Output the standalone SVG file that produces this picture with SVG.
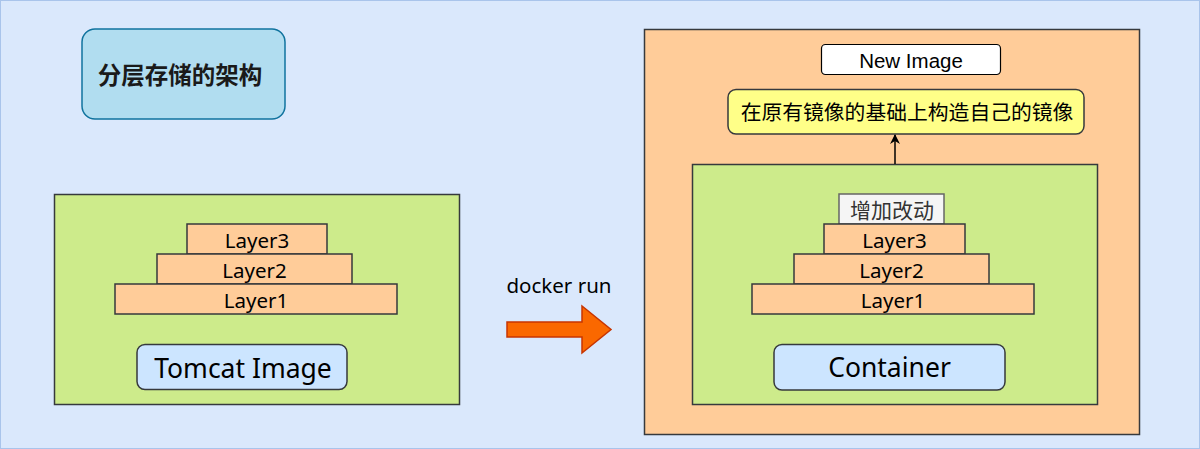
<svg xmlns="http://www.w3.org/2000/svg" width="1200" height="449" viewBox="0 0 1200 449">
<defs>
<style>
.green{fill:#cdeb8b;stroke:#36393d;stroke-width:1.5}
.layer{fill:#ffcc99;stroke:#36393d;stroke-width:1.5}
.lbl{font-family:"Comic Sans MS","Noto Sans","Liberation Sans",sans-serif;fill:#000;text-anchor:middle;dominant-baseline:central}
.cjk{font-family:"Liberation Sans","Noto Sans CJK SC",sans-serif;text-anchor:middle;dominant-baseline:central}
</style>
<marker id="ah" viewBox="0 0 10 10" refX="9" refY="5" markerWidth="10" markerHeight="10" markerUnits="userSpaceOnUse" orient="auto">
<path d="M0,0 L10,5 L0,10 L3,5 Z" fill="#000"/>
</marker>
</defs>
<rect x="0.5" y="0.5" width="1199" height="448" fill="#dae8fc" stroke="#a9c4eb"/>
<g id="title">
<rect x="82" y="29" width="203" height="90" rx="13" fill="#b1ddf0" stroke="#10739e" stroke-width="1.5"/>
<text x="180" y="76" class="cjk" font-size="23.5" font-weight="bold" fill="#1a1a1a">分层存储的架构</text>
</g>
<g id="tomcat-image">
<rect x="54.5" y="194.5" width="405" height="210" class="green"/>
</g>
<g id="layer3-left">
<rect x="187" y="224" width="140" height="30" class="layer"/>
<text x="257" y="240" class="lbl" font-size="20.5">Layer3</text>
</g>
<g id="layer2-left">
<rect x="157" y="254" width="195" height="30" class="layer"/>
<text x="254.5" y="270" class="lbl" font-size="20.5">Layer2</text>
</g>
<g id="layer1-left">
<rect x="115" y="284" width="282" height="30" class="layer"/>
<text x="256" y="300" class="lbl" font-size="20.5">Layer1</text>
</g>
<g id="tomcat-label">
<rect x="137" y="344.5" width="210" height="45" rx="8" fill="#cce5ff" stroke="#36393d" stroke-width="1.5"/>
<text x="243" y="368" class="lbl" font-size="26.5">Tomcat Image</text>
</g>
<g id="docker-run">
<text x="559" y="285" class="lbl" font-size="20.5">docker run</text>
<path d="M507,322 L582,322 L582,306 L611,329.5 L582,353 L582,337 L507,337 Z" fill="#fa6800" stroke="#c73500" stroke-width="1.5"/>
</g>
<g id="container-outer">
<rect x="644.5" y="29.5" width="495" height="405" fill="#ffcc99" stroke="#36393d" stroke-width="1.5"/>
</g>
<g id="new-image">
<rect x="821.5" y="44.5" width="179" height="30" rx="4" fill="#ffffff" stroke="#000" stroke-width="1.2"/>
<text x="911" y="60" class="cjk" font-size="20.5" fill="#000">New Image</text>
</g>
<g id="build-note">
<rect x="728" y="89.5" width="356" height="44.5" rx="8" fill="#ffff88" stroke="#36393d" stroke-width="1.5"/>
<text x="907" y="112" class="cjk" font-size="20.8" fill="#000">在原有镜像的基础上构造自己的镜像</text>
</g>
<g id="container">
<rect x="692.5" y="164.5" width="405" height="240" class="green"/>
</g>
<g id="change">
<rect x="839" y="194" width="105" height="30" fill="#f5f5f5" stroke="#666666" stroke-width="1.5"/>
<text x="892" y="210" class="cjk" font-size="21" fill="#333333">增加改动</text>
</g>
<g id="layer3-right">
<rect x="824" y="224" width="141" height="30" class="layer"/>
<text x="894.5" y="240" class="lbl" font-size="20.5">Layer3</text>
</g>
<g id="layer2-right">
<rect x="794" y="254" width="195" height="30" class="layer"/>
<text x="891.5" y="270" class="lbl" font-size="20.5">Layer2</text>
</g>
<g id="layer1-right">
<rect x="752" y="284" width="282" height="30" class="layer"/>
<text x="893" y="300" class="lbl" font-size="20.5">Layer1</text>
</g>
<g id="container-label">
<rect x="774" y="344.5" width="231" height="45.5" rx="8" fill="#cce5ff" stroke="#36393d" stroke-width="1.5"/>
<text x="889.5" y="367" class="lbl" font-size="26.5">Container</text>
</g>
<g id="connectors">
<line x1="895" y1="164" x2="895" y2="135" stroke="#000" stroke-width="1.5" marker-end="url(#ah)"/>
</g>
</svg>
